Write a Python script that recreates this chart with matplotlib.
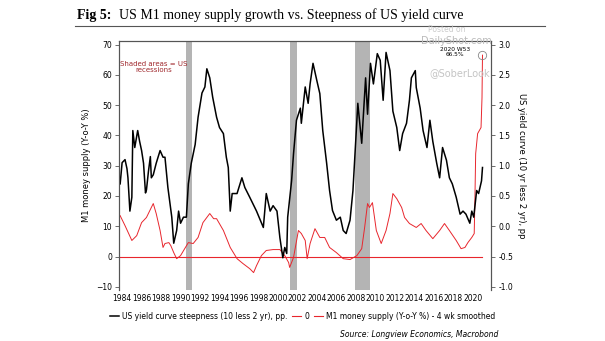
import matplotlib.pyplot as plt
import numpy as np

# ---- data
# US yield curve steepness, 10y less 2y (pp) -> right axis
yc_years = [1983.8, 1984.0, 1984.3, 1984.5, 1984.6, 1984.8, 1985.0, 1985.1, 1985.3, 1985.6,
            1985.8, 1986.0, 1986.2, 1986.4, 1986.5, 1986.7, 1986.9, 1987.0, 1987.2, 1987.5,
            1987.9, 1988.2, 1988.4, 1988.7, 1989.1, 1989.3, 1989.6, 1989.8, 1990.0, 1990.3,
            1990.6, 1990.8, 1991.1, 1991.5, 1991.8, 1992.2, 1992.5, 1992.7, 1993.0, 1993.3,
            1993.7, 1994.0, 1994.4, 1994.7, 1994.9, 1995.1, 1995.3, 1995.8, 1996.3, 1996.6,
            1997.1, 1997.8, 1998.5, 1998.8, 1999.2, 1999.5, 1999.9, 2000.2, 2000.5, 2000.7,
            2000.9, 2001.0, 2001.4, 2001.6, 2001.9, 2002.3, 2002.4, 2002.8, 2003.1, 2003.3,
            2003.6, 2004.0, 2004.3, 2004.6, 2005.0, 2005.3, 2005.6, 2006.0, 2006.4, 2006.7,
            2007.0, 2007.4, 2007.7, 2008.2, 2008.6, 2009.0, 2009.2, 2009.5, 2009.8, 2010.2,
            2010.5, 2010.8, 2011.1, 2011.5, 2011.8, 2012.2, 2012.5, 2012.8, 2013.2, 2013.5,
            2013.7, 2014.1, 2014.2, 2014.6, 2014.9, 2015.3, 2015.6, 2015.9, 2016.3, 2016.6,
            2016.9, 2017.3, 2017.6, 2017.9, 2018.3, 2018.7, 2019.0, 2019.3, 2019.7, 2019.9,
            2020.1, 2020.4, 2020.6, 2020.9, 2021.0]
yc_spread = [0.70, 1.05, 1.10, 0.95, 0.80, 0.25, 0.48, 1.58, 1.30, 1.58,
             1.40, 1.25, 1.04, 0.55, 0.60, 0.90, 1.15, 0.80, 0.85, 1.04,
             1.25, 1.14, 1.14, 0.64, 0.15, -0.28, -0.07, 0.25, 0.05, 0.15,
             0.15, 0.70, 1.04, 1.35, 1.80, 2.20, 2.30, 2.60, 2.45, 2.13,
             1.80, 1.63, 1.53, 1.14, 0.97, 0.25, 0.54, 0.54, 0.80, 0.64,
             0.48, 0.25, -0.02, 0.54, 0.25, 0.34, 0.25, -0.19, -0.52, -0.35,
             -0.45, 0.15, 0.75, 1.20, 1.75, 1.95, 1.70, 2.30, 2.03, 2.35,
             2.69, 2.40, 2.19, 1.58, 1.04, 0.59, 0.26, 0.10, 0.15, -0.07,
             -0.12, 0.10, 0.59, 2.03, 1.37, 2.45, 1.85, 2.69, 2.35, 2.85,
             2.74, 2.08, 2.87, 2.57, 1.90, 1.63, 1.25, 1.53, 1.70, 2.08,
             2.45, 2.57, 2.29, 1.95, 1.58, 1.30, 1.75, 1.40, 1.04, 0.80,
             1.30, 1.09, 0.80, 0.70, 0.48, 0.20, 0.25, 0.20, 0.05, 0.25,
             0.15, 0.59, 0.54, 0.75, 0.97]

# M1 money supply growth, Y-o-Y %, 4 wk smoothed -> left axis
m1_years = [1983.8, 1984.3, 1985.0, 1985.5, 1986.0, 1986.5, 1987.0, 1987.2, 1987.5, 1987.9,
            1988.2, 1988.4, 1988.8, 1989.0, 1989.3, 1989.6, 1990.0, 1990.5, 1990.8, 1991.3,
            1991.8, 1992.3, 1993.0, 1993.4, 1993.7, 1994.4, 1995.1, 1995.8, 1996.4, 1997.1,
            1997.5, 1997.8, 1998.3, 1998.8, 1999.5, 2000.2, 2000.7, 2001.1, 2001.2, 2001.6,
            2002.1, 2002.4, 2002.8, 2003.0, 2003.3, 2003.8, 2004.3, 2004.8, 2005.3, 2006.0,
            2006.7, 2007.4, 2008.1, 2008.6, 2008.9, 2009.2, 2009.4, 2009.7, 2010.1, 2010.6,
            2011.1, 2011.5, 2011.8, 2012.2, 2012.7, 2013.0, 2013.5, 2014.2, 2014.7, 2015.2,
            2015.9, 2016.6, 2017.1, 2017.6, 2018.3, 2018.8, 2019.2, 2019.5, 2019.9, 2020.15,
            2020.22, 2020.3, 2020.5, 2020.85, 2020.95, 2021.0]
m1_growth = [13.5, 10.2, 5.3, 6.9, 11.2, 12.9, 16.2, 17.5, 14.2, 8.6,
             3.0, 4.3, 4.6, 3.6, 1.3, -0.7, 0.3, 3.0, 4.6, 4.3,
             6.3, 11.2, 14.2, 12.5, 12.5, 8.6, 3.0, -0.7, -2.3, -4.0,
             -5.3, -3.0, 0.3, 2.0, 2.3, 2.3, 0.3, -2.0, -3.6, -0.3,
             8.6, 7.6, 5.3, -0.7, 4.3, 9.2, 6.3, 6.3, 3.0, 1.3,
             -0.7, -1.0, 0.3, 2.6, 9.6, 17.5, 16.2, 17.8, 8.6, 4.3,
             8.6, 14.2, 20.8, 19.1, 16.2, 12.9, 10.9, 9.6, 10.9, 8.6,
             5.9, 8.6, 10.9, 8.6, 5.3, 2.6, 3.0, 4.6, 6.3, 7.6,
             18.5, 34.0, 40.6, 42.6, 52.5, 66.5]

recessions = [(1990.58, 1991.17), (2001.25, 2001.92), (2007.92, 2009.5)]
x_ticks = list(range(1984, 2021, 2))

red = '#e8262d'

fig = plt.figure(figsize=(6.05, 3.41), dpi=100)
ax = fig.add_axes([0.197, 0.150, 0.615, 0.730])
ax2 = ax.twinx()

for start, end in recessions:
    ax.axvspan(start, end, color='#b4b4b4', lw=0, zorder=0)

ax.axhline(0, color=red, lw=0.8, xmin=0.0, xmax=(2021.0 - 1983.7) / (2021.9 - 1983.7), zorder=2)
ax.plot(m1_years, m1_growth, color=red, lw=0.7, zorder=3)
ax.plot([m1_years[-1]], [m1_growth[-1]], 'o', ms=6, mfc='none', mec='#888888', mew=0.6, zorder=4)
ax2.plot(yc_years, yc_spread, color='black', lw=1.1)

ax.set_xlim(1983.7, 2021.9)
ax.set_ylim(-11, 71.2)
ax2.set_ylim(-1.05, 3.06)
ax.set_yticks(range(-10, 71, 10))
ax2.set_yticks(np.arange(-1.0, 3.01, 0.5))
ax2.set_yticklabels(['%.1f' % v for v in np.arange(-1.0, 3.01, 0.5)])
ax.set_xticks(x_ticks)
ax.set_xticklabels([str(y) for y in x_ticks])

for a in (ax, ax2):
    a.spines['bottom'].set_visible(False)
    for s in ('left', 'right', 'top'):
        a.spines[s].set_color('#555555')
        a.spines[s].set_linewidth(0.8)
    a.tick_params(labelsize=5.5, length=3, width=0.6, color='#555555', pad=2)
ax.tick_params(axis='x', length=0, pad=3)

ax.set_ylabel('M1 money supply (Y-o-Y %)', fontsize=6, labelpad=4)
ax2.set_ylabel('US yield curve (10 yr less 2 yr), pp', fontsize=6, rotation=270, labelpad=9)

ax.text(1987.2, 62.5, 'Shaded areas = US\nrecessions', color='#a0282d', fontsize=5,
        ha='center', va='center', linespacing=1.0)
ax.text(2018.2, 67.5, '2020 W53\n66.5%', fontsize=4.2, ha='center', va='center', linespacing=1.0)

# title + rule
fig.text(0.127, 0.955, 'Fig 5:', fontsize=10, fontweight='bold', family='Liberation Serif', va='center')
fig.text(0.196, 0.955, 'US M1 money supply growth vs. Steepness of US yield curve',
         fontsize=10, family='Liberation Serif', va='center')
fig.add_artist(plt.Line2D([0.124, 0.900], [0.925, 0.925], color='#555555', lw=0.8))

# watermarks
fig.text(0.738, 0.913, 'Posted on', fontsize=5.5, color='#cccccc', ha='center', va='center')
fig.text(0.755, 0.880, 'DailyShot.com', fontsize=7, color='#bbbbbb', ha='center', va='center')
fig.text(0.760, 0.785, '@SoberLook', fontsize=7, color='#c4c4c4', ha='center', va='center')

# legend
handles = [plt.Line2D([], [], color='black', lw=1.1),
           plt.Line2D([], [], color=red, lw=0.8),
           plt.Line2D([], [], color=red, lw=0.8)]
labels = ['US yield curve steepness (10 less 2 yr), pp.', '0',
          'M1 money supply (Y-o-Y %) - 4 wk smoothed']
fig.legend(handles, labels, loc='center', bbox_to_anchor=(0.50, 0.073), ncol=3, frameon=False,
           fontsize=5.5, handlelength=1.2, handletextpad=0.4, columnspacing=0.6)

fig.text(0.823, 0.018, 'Source: Longview Economics, Macrobond', fontsize=5.5, style='italic',
         ha='right', va='center')

fig.savefig('out.png', dpi=100)
